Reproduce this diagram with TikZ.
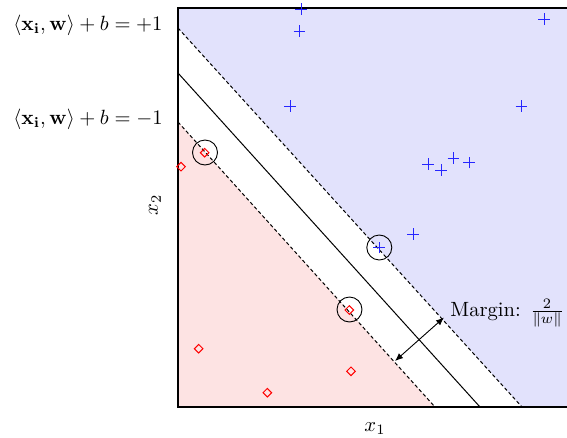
\documentclass[tikz,border=0pt]{standalone}
\usetikzlibrary{shapes.geometric,shapes.misc,arrows.meta}
\definecolor{posfill}{HTML}{E2E2FC}
\definecolor{negfill}{HTML}{FDE3E3}
\tikzset{
  big/.style={scale=2.06,inner sep=0pt},
  posmark/.style={cross out,draw=blue!85!white,rotate=45,minimum size=7.5pt,inner sep=0pt,line width=0.9pt},
  negmark/.style={diamond,draw=red,minimum size=9pt,inner sep=0pt,line width=1pt},
  svring/.style={circle,draw=black,minimum size=25pt,inner sep=0pt,line width=0.9pt},
  bound/.style={dash pattern=on 3.5pt off 2.5pt,line width=1pt},
  sep/.style={line width=1pt},
}
\begin{document}
\begin{tikzpicture}[x=1pt,y=-1pt]
\useasboundingbox (0,0) rectangle (567,437);
% corners of plot
\coordinate (tl) at (178,8);
\coordinate (tr) at (590,8);
\coordinate (br) at (590,407);
\coordinate (bl) at (178,407);
% line endpoints
\coordinate (pa) at (178,28);
\coordinate (pb) at (522,407);
\coordinate (sa) at (178,73);
\coordinate (sb) at (480,407);
\coordinate (na) at (178,122);
\coordinate (nb) at (435,407);
% regions
\fill[posfill] (tl) -- (tr) -- (br) -- (pb) -- (pa) -- cycle;
\fill[negfill] (na) -- (nb) -- (bl) -- cycle;
% lines
\draw[bound] (pa) -- (pb);
\draw[sep] (sa) -- (sb);
\draw[bound] (na) -- (nb);
% frame
\draw[line width=1.2pt] (tr) -- (tl) -- (bl) -- (br);
% positive points
\foreach \n/\p in {p1/{(301,9)},p2/{(299.5,31)},p3/{(290,106)},p4/{(544,19)},p5/{(521.5,106)},p6/{(428,164)},p7/{(441,170)},p8/{(453.5,158)},p9/{(469,162.5)},p10/{(413,234)},p11/{(379,247.5)}}
  \node[posmark] (\n) at \p {};
% negative points
\foreach \n/\p in {n1/{(204.7,152.7)},n2/{(181,166.7)},n3/{(349.3,310)},n4/{(198.7,348.7)},n5/{(267.3,392.7)},n6/{(351,371.3)}}
  \node[negmark] (\n) at \p {};
% support vector rings
\node[svring] (c1) at (205,152.5) {};
\node[svring] (c2) at (379.3,247.5) {};
\node[svring] (c3) at (349.5,309.5) {};
% margin arrow
\coordinate (ma) at (395,361);
\coordinate (mb) at (444,317.5);
\draw[{Latex[length=8pt,width=6.5pt]}-{Latex[length=8pt,width=6.5pt]},line width=0.9pt] (ma) -- (mb);
\node[big,anchor=west] (mlab) at (450,313) {Margin: $\frac{2}{\|w\|}$};
% labels
\node[big,anchor=east] (lp) at (163,25) {$\langle \mathbf{x_i}, \mathbf{w}\rangle + b = +1$};
\node[big,anchor=east] (ln) at (163,119) {$\langle \mathbf{x_i}, \mathbf{w}\rangle + b = -1$};
\node[big] (xone) at (375,429) {$x_1$};
\node[big,rotate=90] (xtwo) at (155,205) {$x_2$};
\end{tikzpicture}
\end{document}
